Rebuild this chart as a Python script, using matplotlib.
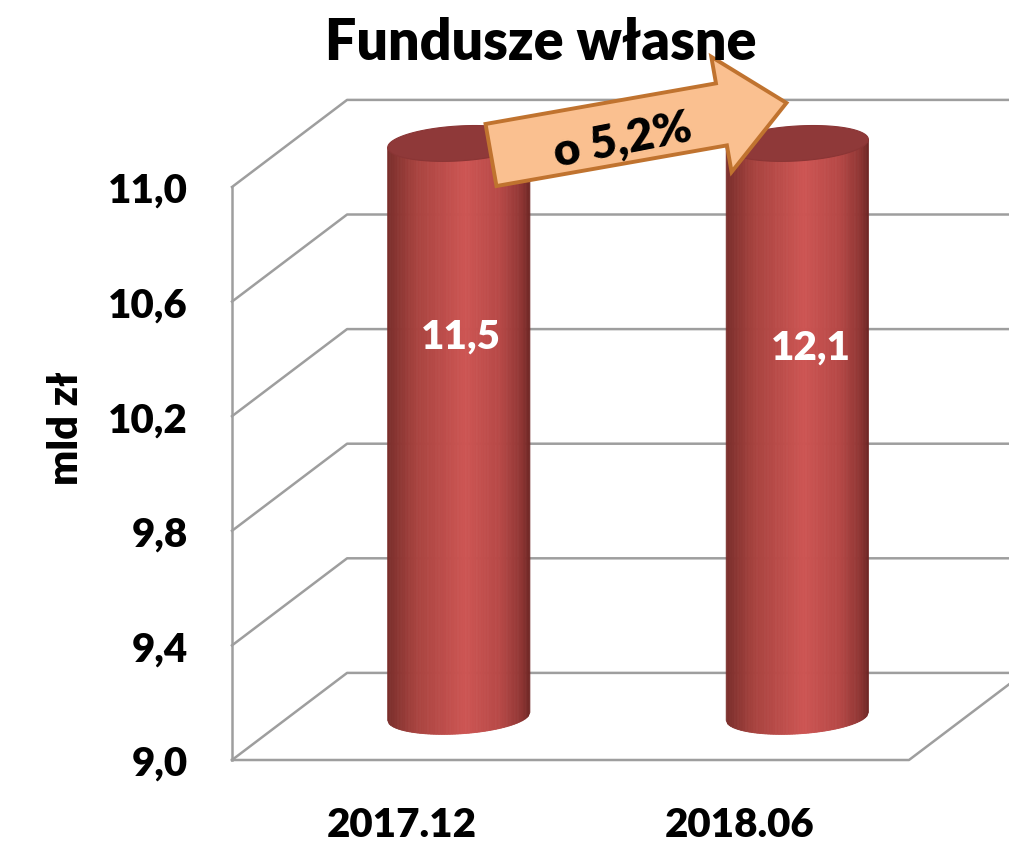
import numpy as np
import matplotlib
matplotlib.use("Agg")
import matplotlib.pyplot as plt
from matplotlib.patches import FancyArrow, Polygon
from matplotlib.colors import LinearSegmentedColormap

# data
categories = ["2017.12", "2018.06"]
values = [11.5, 12.1]
value_labels = ["11,5", "12,1"]
y_ticks = [9.0, 9.4, 9.8, 10.2, 10.6, 11.0]
y_tick_labels = ["9,0", "9,4", "9,8", "10,2", "10,6", "11,0"]
y_min, y_max = 9.0, 11.0
title = "Fundusze własne"
y_title = "mld zł"
change_label = "o 5,2%"

plt.rcParams['font.family'] = ['Lato', 'DejaVu Sans']
FW = "heavy"

W, H = 1009, 845
fig = plt.figure(figsize=(W / 100, H / 100), dpi=100)
ax = fig.add_axes([232 / W, 1 - 761 / H, (909 - 232) / W, (761 - 188) / H])
ax.set_xlim(-0.5, len(categories) - 0.5)
ax.set_ylim(y_min, y_max)

# 3D depth offset (data units)
dx, dy = 0.34, 0.304
grid_c = "#9E9E9E"
x_left = -0.5
x_right = len(categories) - 0.5

# back wall + side wall gridlines
for v in y_ticks:
    ax.plot([x_left, x_left + dx, x_right + dx + 0.5], [v, v + dy, v + dy],
            color=grid_c, lw=1.8, clip_on=False, zorder=1)
# floor + front edge
ax.plot([x_left, x_right, x_right + dx], [y_min, y_min, y_min + dy],
        color=grid_c, lw=1.8, clip_on=False, zorder=1)
ax.plot([x_left, x_left], [y_min, y_max], color=grid_c, lw=1.8, clip_on=False, zorder=1)

# cylinder shading
cyl_cmap = LinearSegmentedColormap.from_list("cyl", [
    (0.0, "#7A2E2B"), (0.2, "#A8433F"), (0.55, "#CD5553"),
    (0.8, "#B64846"), (0.95, "#8E3533"), (1.0, "#6E2624")])
a, b, s = 0.21, 0.061, 0.014
n = 90
u = np.linspace(-1, 1, n + 1)
label_pos_y = [10.48, 10.44]
label_dx = [0.005, 0.04]

for i, v in enumerate(values):
    cx = i + dx / 2
    yb = y_min + dy / 2
    yt = min(v, y_max) + dy / 2
    for k in range(n):
        u0, u1 = u[k], u[k + 1]
        x0, x1 = cx + a * u0, cx + a * u1
        b0 = yb - b * np.sqrt(max(0, 1 - u0 ** 2)) + s * u0
        b1 = yb - b * np.sqrt(max(0, 1 - u1 ** 2)) + s * u1
        t0, t1 = yt + s * u0, yt + s * u1
        col = cyl_cmap((u0 + u1) / 4 + 0.5)
        ax.add_patch(Polygon([(x0, b0), (x1, b1), (x1, t1), (x0, t0)],
                             closed=True, facecolor=col, edgecolor=col, lw=0.6,
                             clip_on=False, zorder=3))
    t = np.linspace(0, 2 * np.pi, 120)
    ex = cx + a * np.cos(t)
    ey = yt + b * np.sin(t) + s * np.cos(t)
    ax.add_patch(Polygon(np.column_stack([ex, ey]), closed=True,
                         facecolor="#8F3939", edgecolor="#8A3535", lw=0.8,
                         clip_on=False, zorder=4))
    ax.text(cx + label_dx[i], label_pos_y[i], value_labels[i], color="white",
            fontsize=29, fontweight=FW, ha="center", va="center", zorder=5)

ax.set_xticks(range(len(categories)))
ax.set_xticklabels(categories, fontsize=29, fontweight=FW)
ax.set_yticks(y_ticks)
ax.set_yticklabels(y_tick_labels, fontsize=29, fontweight=FW)
ax.tick_params(axis="x", length=0, pad=33)
ax.tick_params(axis="y", length=0, pad=32)
for sp in ax.spines.values():
    sp.set_visible(False)
ax.patch.set_alpha(0)
ax.set_ylabel(y_title, fontsize=30, fontweight=FW, va="center")
ax.yaxis.set_label_coords(-0.245, 0.58)

fig.text(541 / W, 1 - 43 / H, title, fontsize=40, fontweight=FW,
         ha="center", va="center")

# overlay for the change arrow (pixel coordinates)
ov = fig.add_axes([0, 0, 1, 1])
ov.set_xlim(0, W)
ov.set_ylim(H, 0)
ov.axis("off")
ang = np.deg2rad(10)
L = 300
ov.add_patch(FancyArrow(491, 156, L * np.cos(ang), -L * np.sin(ang), width=63,
                        head_width=117, head_length=66, length_includes_head=True,
                        facecolor="#FAC090", edgecolor="#C0732F", lw=2.8, zorder=6))
ov.text(623, 141, change_label, fontsize=33, fontweight=FW, rotation=11,
        ha="center", va="center", rotation_mode="anchor", zorder=7)

fig.savefig("out.png", dpi=100)
